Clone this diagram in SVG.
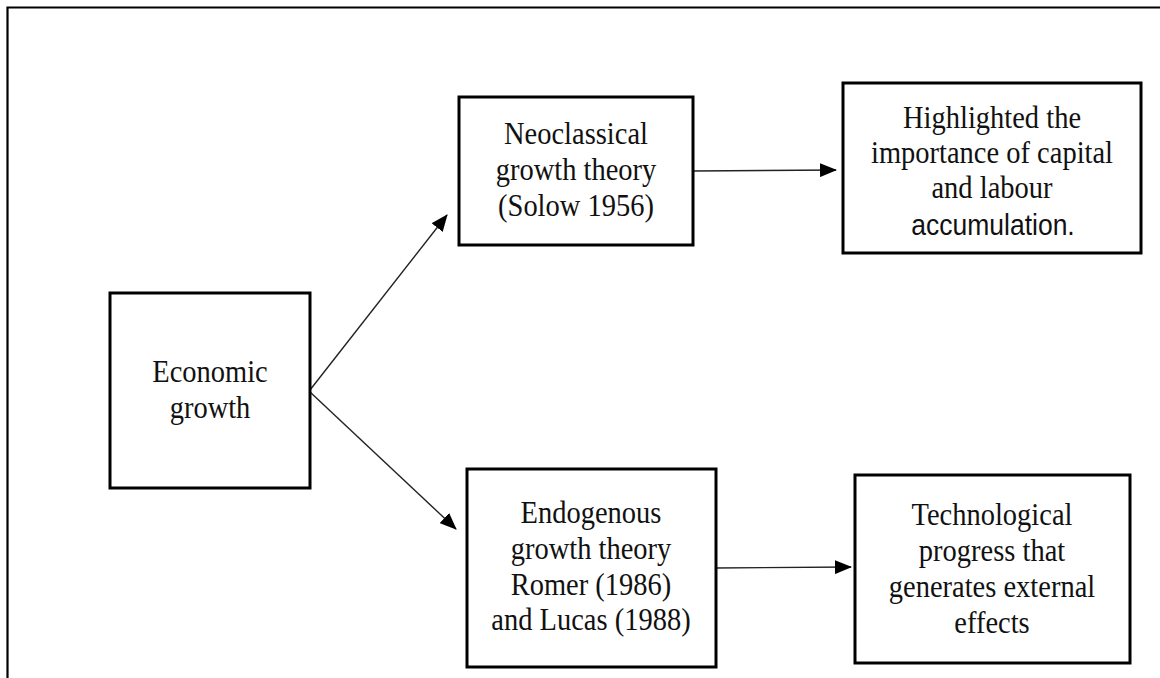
<svg xmlns="http://www.w3.org/2000/svg" width="1160" height="678" viewBox="0 0 1160 678">
<style>
.box{fill:#fff;stroke:#000;stroke-width:3}
.t{font-family:"Liberation Serif","Times New Roman",serif;font-size:28.5px;fill:#111;text-anchor:middle}
.s{font-family:"Liberation Sans",Arial,sans-serif;font-size:26.5px;fill:#111;text-anchor:middle}
.c{stroke:#222;stroke-width:1.4;fill:none;marker-end:url(#ah)}
</style>
<defs>
<marker id="ah" markerWidth="17" markerHeight="14" refX="16" refY="7" orient="auto" markerUnits="userSpaceOnUse">
<path d="M0,0 L17,7 L0,14 Z" fill="#000"/>
</marker>
</defs>
<rect width="1160" height="678" fill="#fff"/>
<g id="frame" fill="none" stroke="#000" stroke-width="2.2">
<path d="M1160,7.5 H7.5 V678"/>
</g>
<g id="connectors">
<line class="c" x1="310" y1="390" x2="447" y2="215"/>
<line class="c" x1="310" y1="392" x2="456" y2="529"/>
<line class="c" x1="693" y1="171" x2="836" y2="170"/>
<line class="c" x1="715" y1="568" x2="851" y2="567"/>
</g>
<g id="economic-growth">
<rect class="box" x="110" y="293" width="200" height="195"/>
<text class="t" transform="translate(210,382) scale(1,1.12)">Economic</text>
<text class="t" transform="translate(210,418) scale(1,1.12)">growth</text>
</g>
<g id="neoclassical">
<rect class="box" x="459" y="97" width="234" height="148"/>
<text class="t" transform="translate(576,144) scale(1,1.12)">Neoclassical</text>
<text class="t" transform="translate(576,180) scale(1,1.12)">growth theory</text>
<text class="t" transform="translate(576,216) scale(1,1.12)">(Solow 1956)</text>
</g>
<g id="highlighted">
<rect class="box" x="843" y="83" width="298" height="170"/>
<text class="t" transform="translate(992,128) scale(1,1.12)">Highlighted the</text>
<text class="t" transform="translate(992,163) scale(1,1.12)">importance of capital</text>
<text class="t" transform="translate(992,198) scale(1,1.12)">and labour</text>
<text class="s" transform="translate(993,235) scale(1,1.1)">accumulation.</text>
</g>
<g id="endogenous">
<rect class="box" x="467" y="469" width="249" height="198"/>
<text class="t" transform="translate(591,523) scale(1,1.12)">Endogenous</text>
<text class="t" transform="translate(591,559) scale(1,1.12)">growth theory</text>
<text class="t" transform="translate(591,595) scale(1,1.12)">Romer (1986)</text>
<text class="t" transform="translate(591,630) scale(1,1.12)">and Lucas (1988)</text>
</g>
<g id="technological">
<rect class="box" x="855" y="475" width="275" height="188"/>
<text class="t" transform="translate(992,525) scale(1,1.12)">Technological</text>
<text class="t" transform="translate(992,561) scale(1,1.12)">progress that</text>
<text class="t" transform="translate(992,597) scale(1,1.12)">generates external</text>
<text class="t" transform="translate(992,633) scale(1,1.12)">effects</text>
</g>
</svg>
